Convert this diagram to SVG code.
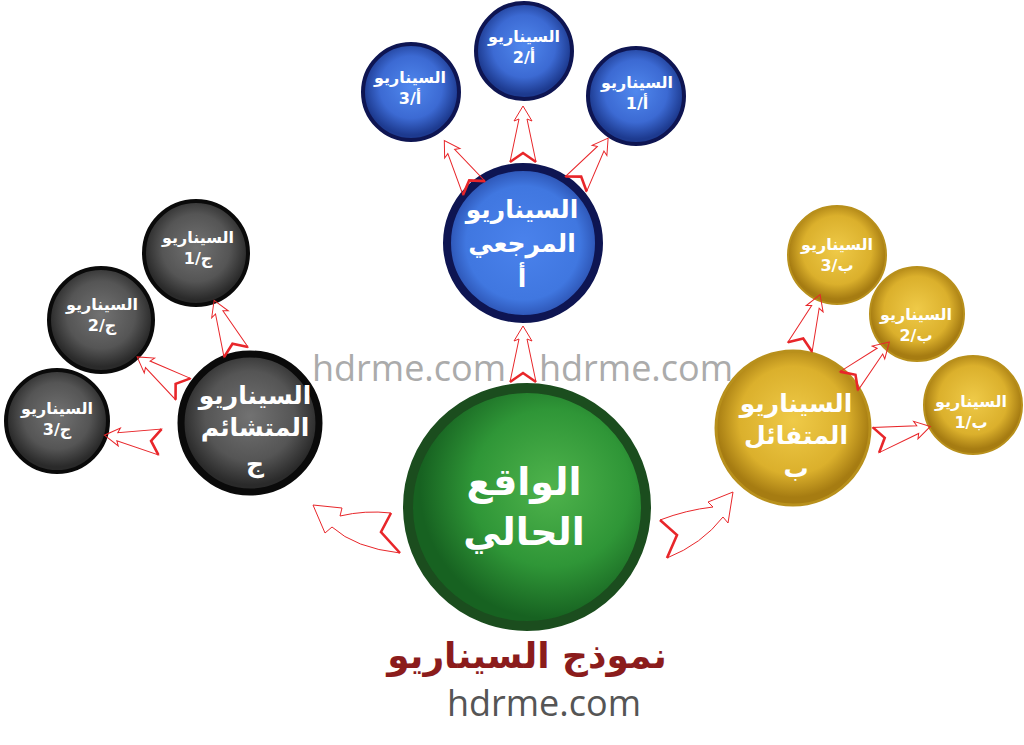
<svg xmlns="http://www.w3.org/2000/svg" width="1024" height="745" viewBox="0 0 1024 745">
<style>
.t{font-family:"DejaVu Sans",sans-serif;font-weight:bold;fill:#fff;text-anchor:middle}
.s{font-size:16px}
.m{font-size:25px}
.ao{fill:none;stroke:#e8262a;stroke-width:1}
.an{fill:none;stroke:#e8262a;stroke-width:2.6;stroke-linejoin:miter}
.wm{font-family:"Open Sans",sans-serif;font-size:36px;fill:#ababab}
</style>
<defs>
<radialGradient id="gb" cx="50%" cy="45%" r="50%">
<stop offset="0" stop-color="#5088ee"/><stop offset="0.65" stop-color="#3c6ad3"/><stop offset="1" stop-color="#1d3a8f"/>
</radialGradient>
<radialGradient id="gbm" cx="50%" cy="50%" r="50%">
<stop offset="0" stop-color="#4a82ec"/><stop offset="0.75" stop-color="#4077e0"/><stop offset="1" stop-color="#2b51b0"/>
</radialGradient>
<radialGradient id="gg" cx="50%" cy="45%" r="50%">
<stop offset="0" stop-color="#727272"/><stop offset="0.65" stop-color="#555"/><stop offset="1" stop-color="#2a2a2a"/>
</radialGradient>
<radialGradient id="gy" cx="50%" cy="45%" r="50%">
<stop offset="0" stop-color="#efca48"/><stop offset="0.7" stop-color="#dbb02c"/><stop offset="1" stop-color="#a67c12"/>
</radialGradient>
<radialGradient id="gn" cx="60%" cy="42%" r="55%">
<stop offset="0" stop-color="#4fb34c"/><stop offset="0.6" stop-color="#2f9637"/><stop offset="1" stop-color="#176221"/>
</radialGradient>
<g id="arr"><polygon class="ao" points="56,0 41,-9 43,-4 0,-13 9,0 0,13 43,4 41,9"/><polyline class="an" points="0,-13 9,0 0,13"/></g>
</defs>
<rect width="1024" height="745" fill="#fff"/>

<g id="node-current">
<circle cx="527" cy="507" r="119" fill="url(#gn)" stroke="#1b4d1e" stroke-width="10"/>
<text class="t" x="524" y="495" font-size="38">الواقع</text>
<text class="t" x="524" y="545" font-size="38">الحالي</text>
</g>

<g id="node-a">
<circle cx="523" cy="243" r="76" fill="url(#gbm)" stroke="#0e1552" stroke-width="8"/>
<text class="t m" x="522" y="218">السيناريو</text>
<text class="t m" x="522" y="252">المرجعي</text>
<text class="t m" x="522" y="287">أ</text>
</g>
<g id="node-a2">
<circle cx="524" cy="51" r="48" fill="url(#gb)" stroke="#0e1552" stroke-width="4"/>
<text class="t s" x="524" y="42">السيناريو</text>
<text class="t s" x="524" y="63">أ/2</text>
</g>
<g id="node-a3">
<circle cx="411" cy="92" r="48" fill="url(#gb)" stroke="#0e1552" stroke-width="4"/>
<text class="t s" x="410" y="83">السيناريو</text>
<text class="t s" x="410" y="104">أ/3</text>
</g>
<g id="node-a1">
<circle cx="636" cy="96" r="48" fill="url(#gb)" stroke="#0e1552" stroke-width="4"/>
<text class="t s" x="637" y="88">السيناريو</text>
<text class="t s" x="637" y="109">أ/1</text>
</g>

<g id="node-c">
<circle cx="250" cy="423" r="69" fill="url(#gg)" stroke="#0a0a0a" stroke-width="7"/>
<text class="t m" x="255" y="404">السيناريو</text>
<text class="t m" x="255" y="436">المتشائم</text>
<text class="t m" x="255" y="472">ج</text>
</g>
<g id="node-c1">
<circle cx="196" cy="253" r="52" fill="url(#gg)" stroke="#0a0a0a" stroke-width="4"/>
<text class="t s" x="198" y="243">السيناريو</text>
<text class="t s" x="198" y="264">ج/1</text>
</g>
<g id="node-c2">
<circle cx="101" cy="320" r="52" fill="url(#gg)" stroke="#0a0a0a" stroke-width="4"/>
<text class="t s" x="102" y="310">السيناريو</text>
<text class="t s" x="102" y="331">ج/2</text>
</g>
<g id="node-c3">
<circle cx="57" cy="421" r="51" fill="url(#gg)" stroke="#0a0a0a" stroke-width="4"/>
<text class="t s" x="57" y="414">السيناريو</text>
<text class="t s" x="57" y="435">ج/3</text>
</g>

<g id="node-b">
<circle cx="793" cy="428" r="77" fill="url(#gy)" stroke="#b8901c" stroke-width="3"/>
<text class="t m" x="796" y="412">السيناريو</text>
<text class="t m" x="796" y="444">المتفائل</text>
<text class="t m" x="796" y="477">ب</text>
</g>
<g id="node-b3">
<circle cx="837" cy="255" r="49" fill="url(#gy)" stroke="#b8901c" stroke-width="2"/>
<text class="t s" x="837" y="250">السيناريو</text>
<text class="t s" x="837" y="271">ب/3</text>
</g>
<g id="node-b2">
<circle cx="917" cy="314" r="47" fill="url(#gy)" stroke="#b8901c" stroke-width="2"/>
<text class="t s" x="916" y="320">السيناريو</text>
<text class="t s" x="916" y="341">ب/2</text>
</g>
<g id="node-b1">
<circle cx="973" cy="405" r="49" fill="url(#gy)" stroke="#b8901c" stroke-width="2"/>
<text class="t s" x="971" y="407">السيناريو</text>
<text class="t s" x="971" y="428">ب/1</text>
</g>

<g id="watermark">
<text class="wm" x="312" y="381">hdrme.com</text>
<text class="wm" x="539" y="381">hdrme.com</text>
</g>

<g id="connectors">
<use href="#arr" transform="translate(523,382) rotate(-90)"/>
<use href="#arr" transform="translate(523,162) rotate(-90)"/>
<use href="#arr" transform="translate(474,188) rotate(-122)"/>
<use href="#arr" transform="translate(576,184) rotate(-55)"/>
<use href="#arr" transform="translate(236,352) rotate(-113)"/>
<use href="#arr" transform="translate(183,389) rotate(-145)"/>
<use href="#arr" transform="translate(160,442) rotate(-173)"/>
<use href="#arr" transform="translate(800,347) rotate(-69)"/>
<use href="#arr" transform="translate(849,381) rotate(-44)"/>
<use href="#arr" transform="translate(876,440) rotate(-14)"/>
<path class="ao" d="M313,505 L342,508 L340,516 Q365,510 391,513 L381,532 L400,553 Q355,548 332,527 L325,533 Z"/>
<polyline class="an" points="391,513 381,532 400,553"/>
<path class="ao" d="M733,492 L708,502 L713,507 Q686,510 660,520 L677,535 L667,558 Q702,544 723,517 L728,523 Z"/>
<polyline class="an" points="660,520 677,535 667,558"/>
</g>

<g id="title">
<text x="527" y="668" font-family="'DejaVu Sans',sans-serif" font-weight="bold" font-size="36" fill="#8b1c1c" text-anchor="middle">نموذج السيناريو</text>
<text x="544" y="716" font-family="'Open Sans',sans-serif" font-size="36" fill="#555" text-anchor="middle">hdrme.com</text>
</g>
</svg>
